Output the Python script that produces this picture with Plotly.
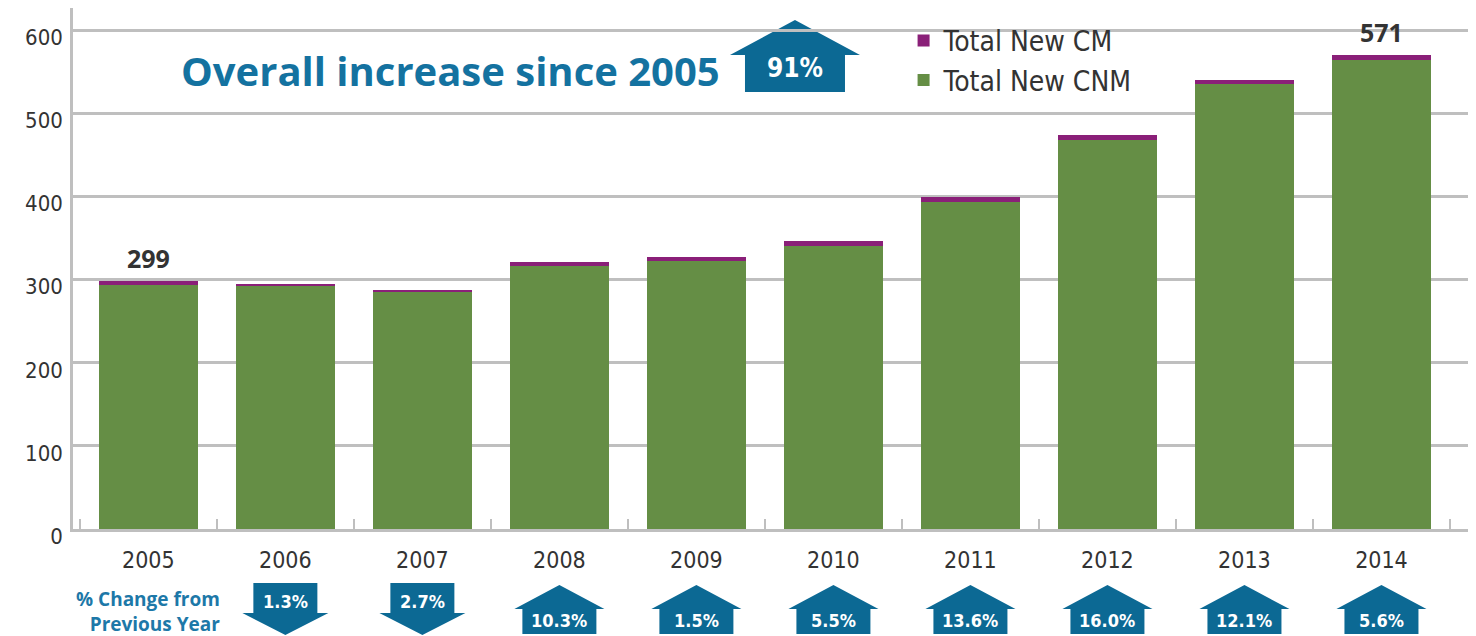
import plotly.graph_objects as go

# ---------------- data ----------------
years = [2005, 2006, 2007, 2008, 2009, 2010, 2011, 2012, 2013, 2014]
new_cnm = [294, 292, 286, 317, 323, 340, 393, 468, 536, 565]
new_cm = [5, 3, 1, 4, 4, 6, 6, 6, 4, 6]
pct_change = ["", "1.3%", "2.7%", "10.3%", "1.5%", "5.5%", "13.6%", "16.0%", "12.1%", "5.6%"]
pct_direction = ["", "down", "down", "up", "up", "up", "up", "up", "up", "up"]
total_label_years = [2005, 2014]
total_labels = ["299", "571"]
overall_text = "Overall increase since 2005"
overall_pct = "91%"
y_ticks = [0, 100, 200, 300, 400, 500, 600]

# ---------------- styles ----------------
GREEN = "#658e45"
PURPLE = "#8a1f78"
BLUE = "#0c6994"
TITLE_BLUE = "#1472a0"
GRID = "#bfbfbf"
TXT = "#333333"
NARROW = "Liberation Sans Narrow, DejaVu Sans Condensed, Roboto Condensed, Arial Narrow, sans-serif"
BOLD = "Open Sans, Lato, DejaVu Sans, sans-serif"

fig = go.Figure()
fig.add_trace(go.Bar(x=years, y=new_cnm, name="Total New CNM",
                     marker=dict(color=GREEN, line=dict(width=0))))
fig.add_trace(go.Bar(x=years, y=new_cm, name="Total New CM",
                     marker=dict(color=PURPLE, line=dict(width=0))))

totals = [a + b for a, b in zip(new_cnm, new_cm)]

annotations = []
# total labels above selected bars
for yr, lab in zip(total_label_years, total_labels):
    i = years.index(yr)
    annotations.append(dict(x=yr, y=totals[i], xref="x", yref="y", text=lab,
                            showarrow=False, yanchor="bottom", yshift=4,
                            font=dict(family=BOLD, size=25, color=TXT, weight=700)))

# title text
annotations.append(dict(x=0.2694, y=1, xref="paper", yref="paper", yshift=-62,
                        text=overall_text, showarrow=False, xanchor="center", yanchor="middle",
                        font=dict(family=BOLD, size=40, color=TITLE_BLUE, weight=700)))
annotations.append(dict(x=0.5146, y=1, xref="paper", yref="paper", yshift=-60,
                        text=overall_pct, showarrow=False, xanchor="center", yanchor="middle",
                        font=dict(family=NARROW, size=26, color="white", weight=700)))

# "% Change from Previous Year"
annotations.append(dict(x=0.1062, y=0, xref="paper", yref="paper", yshift=-82,
                        text="% Change from<br>Previous Year", showarrow=False,
                        xanchor="right", yanchor="middle", align="right",
                        font=dict(family=BOLD, size=19, color="#1d78a8", weight=700)))

shapes = []
UP_PATH = "M 0,-56 L 45,-80 L 37,-80 L 37,-105 L -37,-105 L -37,-80 L -45,-80 Z"
DOWN_PATH = "M -32,-54 L 32,-54 L 32,-84 L 43,-84 L 0,-106 L -43,-84 L -32,-84 Z"
for yr, txt, d in zip(years, pct_change, pct_direction):
    if not d:
        continue
    shapes.append(dict(type="path", xref="x", yref="paper",
                       xsizemode="pixel", ysizemode="pixel", xanchor=yr, yanchor=0,
                       path=UP_PATH if d == "up" else DOWN_PATH,
                       fillcolor=BLUE, line=dict(width=0), layer="above"))
    annotations.append(dict(x=yr, y=0, xref="x", yref="paper",
                            yshift=-91 if d == "up" else -72,
                            text=txt, showarrow=False, xanchor="center", yanchor="middle",
                            font=dict(family=NARROW, size=18, color="white", weight=700)))

# big overall arrow
shapes.append(dict(type="path", xref="paper", yref="paper",
                   xsizemode="pixel", ysizemode="pixel", xanchor=0.5146, yanchor=1,
                   path="M 0,-12 L 65,-47 L 50,-47 L 50,-84 L -50,-84 L -50,-47 L -65,-47 Z",
                   fillcolor=BLUE, line=dict(width=0), layer="below"))

# the page adds an 8px body margin; the figure is sized/offset to compensate
fig.update_layout(
    width=1468, height=628,
    margin=dict(l=65, r=0, t=0, b=107, autoexpand=False),
    paper_bgcolor="white", plot_bgcolor="white",
    barmode="stack", bargap=0.275,
    showlegend=True,
    legend=dict(x=0.592, y=0.985, xanchor="left", yanchor="top",
                traceorder="reversed", bgcolor="rgba(0,0,0,0)",
                font=dict(family=NARROW, size=28, color=TXT),
                itemwidth=30, tracegroupgap=0),
    annotations=annotations,
    shapes=shapes,
)

fig.update_xaxes(
    range=[2004.45, 2014.69], automargin=False,
    tickvals=years, ticktext=[str(y) for y in years],
    ticks="", showgrid=False, zeroline=False,
    showline=True, linecolor=GRID, linewidth=2.5, mirror=True,
    tickfont=dict(family=NARROW, size=23, color=TXT),
    ticklabelstandoff=9,
    minor=dict(ticks="inside", ticklen=10, tickwidth=2, tickcolor=GRID,
               tick0=2004.5, dtick=1, showgrid=False),
)
fig.update_yaxes(
    range=[0, 627], automargin=False,
    tickvals=y_ticks,
    showgrid=True, gridcolor=GRID, gridwidth=2.5,
    zeroline=False, ticks="",
    showline=True, linecolor=GRID, linewidth=2.5,
    tickfont=dict(family=NARROW, size=22, color=TXT),
    ticklabelshift=7, ticklabelstandoff=3,
)

fig.write_html("out.html")
